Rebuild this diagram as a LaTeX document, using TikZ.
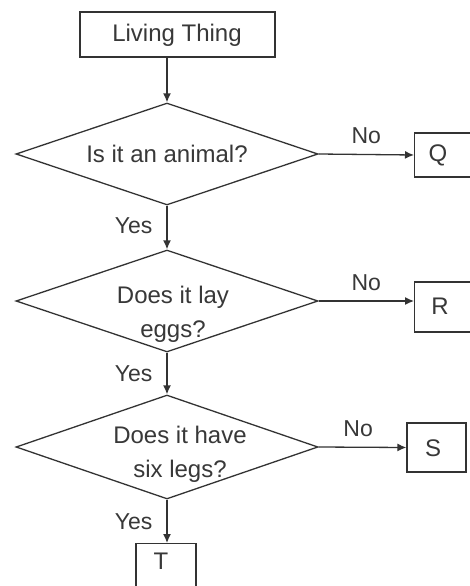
\documentclass[tikz,border=0pt]{standalone}
\usepackage{fontspec}
\setmainfont{Liberation Sans}
\usetikzlibrary{shapes.geometric,arrows.meta}
\begin{document}
\begin{tikzpicture}[x=1pt,y=-1pt,
  ink/.style={draw=black!80, line width=1.3pt},
  box/.style={ink, rectangle, inner sep=0pt},
  dec/.style={ink, diamond, inner sep=0pt, minimum width=302pt, minimum height=102pt, aspect=3},
  txt/.style={text=black!78, font=\fontsize{24}{34}\selectfont, inner sep=0pt, align=center},
  lbl/.style={text=black!78, font=\fontsize{23}{26}\selectfont, inner sep=0pt},
  arr/.style={draw=black!80, line width=1.3pt, -{Latex[length=9pt,width=8pt]}}
]
\useasboundingbox (0,0) rectangle (470,586);
\fill[white] (0,0) rectangle (470,586);
\begin{scope}
\clip (0,0) rectangle (470,586);
% boxes
\node[box, minimum width=195pt, minimum height=45pt] (lt) at (177.5,34.5) {};
\node[txt] (ltt) at (177,35) {Living Thing};
\node[box, minimum width=70pt, minimum height=44pt, anchor=west] (q) at (414,155) {};
\node[txt] (qt) at (438,155) {Q};
\node[box, minimum width=70pt, minimum height=50pt, anchor=west] (r) at (414,307) {};
\node[txt] (rt) at (440,306) {R};
\node[box, minimum width=59pt, minimum height=49pt] (s) at (436.5,447.5) {};
\node[txt] (st) at (433,448) {S};
\node[box, minimum width=60pt, minimum height=50pt, anchor=north] (t) at (166,543) {};
\node[txt] (tt) at (161,561) {T};
% decisions
\node[dec] (d1) at (167,154) {};
\node[txt] (d1t) at (167,154) {Is it an animal?};
\node[dec] (d2) at (167,301) {};
\node[txt] (d2t) at (173,314) {Does it lay\\eggs?};
\node[dec, minimum height=104pt] (d3) at (167,447) {};
\node[txt] (d3t) at (180,454) {Does it have\\six legs?};
% connectors
\draw[arr] (lt.south -| d1.north) -- (d1.north);
\draw[arr] (d1.south) -- node[lbl, pos=0.45, left=14pt] (y1) {Yes} (d2.north);
\draw[arr] (d2.south) -- node[lbl, pos=0.5, left=14pt] (y2) {Yes} (d3.north);
\draw[arr] (d3.south) -- node[lbl, pos=0.5, left=14pt] (y3) {Yes} (t.north -| d3.south);
\draw[arr] (d1.east) -- node[lbl, pos=0.5, above=10pt] (n1) {No} (q.west);
\draw[arr] (d2.east) -- node[lbl, pos=0.5, above=10pt] (n2) {No} (d2.east -| r.west);
\draw[arr] (d3.east) -- node[lbl, pos=0.45, above=10pt] (n3) {No} (s.west);
\end{scope}
\end{tikzpicture}
\end{document}
